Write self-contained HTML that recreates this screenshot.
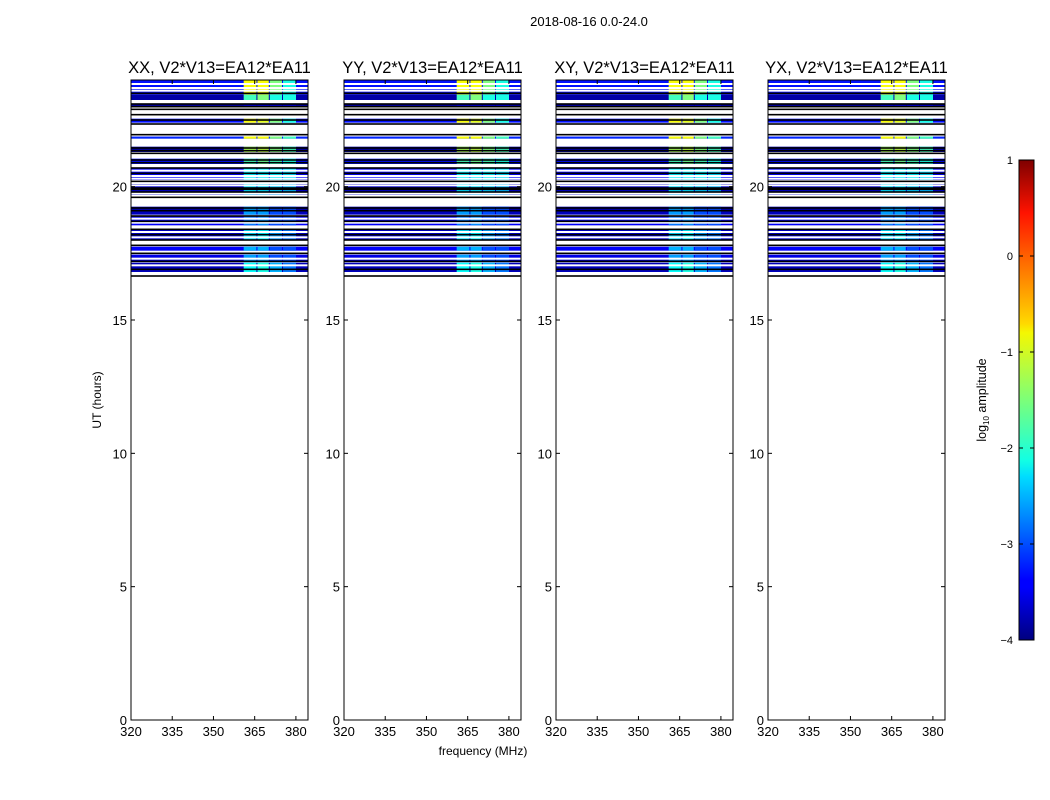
<!DOCTYPE html>
<html><head><meta charset="utf-8"><style>
body{margin:0;background:#fff;}
svg{display:block;font-family:"Liberation Sans",sans-serif;}
</style></head><body>
<svg id="s" width="1050" height="800" viewBox="0 0 1050 800">
<defs><linearGradient id="jet" x1="0" y1="1" x2="0" y2="0">
<stop offset="0" stop-color="#00007f"/><stop offset="0.11" stop-color="#0000ff"/><stop offset="0.125" stop-color="#0000ff"/>
<stop offset="0.34" stop-color="#00dcff"/><stop offset="0.375" stop-color="#13ffe3"/><stop offset="0.5" stop-color="#7cff79"/>
<stop offset="0.64" stop-color="#f4f802"/><stop offset="0.66" stop-color="#ffd800"/><stop offset="0.89" stop-color="#ff1300"/>
<stop offset="1" stop-color="#7f0000"/></linearGradient></defs>
<text x="589" y="26" font-size="13" text-anchor="middle">2018-08-16 0.0-24.0</text>
<text x="483" y="755" font-size="12" text-anchor="middle">frequency (MHz)</text>
<text transform="translate(101,400) rotate(-90)" font-size="12" text-anchor="middle">UT (hours)</text>
</svg>
<script>
const panelTitles=["XX, V2*V13=EA12*EA11","YY, V2*V13=EA12*EA11","XY, V2*V13=EA12*EA11","YX, V2*V13=EA12*EA11"];
const xTicks=[320,335,350,365,380];
const yTicks=[0,5,10,15,20];
const cbTicks=[-4,-3,-2,-1,0,1];
const bandEdges=[361,366,370.5,375.3,380.4];
const rowStart=[23.45,23.25,23.0,22.4,21.8,21.3,20.85,20.25,19.7,18.95,18.55,18.0,17.6,17.2,16.8];
const rowEnd=[24,23.45,23.12,22.55,21.88,21.5,21.05,20.7,20.1,19.25,18.9,18.4,17.75,17.45,17.15];
const rowBase=[-3.3,-3.8,-3.8,-3.3,-3.2,-3.8,-3.3,-3.4,-3.6,-3.7,-3.4,-3.6,-3.4,-3.5,-3.7];
const rowBand=[[-0.9,-0.9,-1.5,-2],[-1.8,-1.5,-2,-2],[-3.6,-3.6,-3.6,-3.6],[-0.9,-1,-1.5,-2],[-0.9,-0.9,-1.5,-1.8],[-1.3,-1.2,-1.5,-1.8],[-1.8,-1.6,-1.8,-2],[-2.2,-2.2,-2.2,-2.3],[-2.3,-2.3,-2.4,-2.5],[-2.6,-2.6,-3,-3],[-2.8,-2.7,-3,-3],[-2.3,-2.2,-2.6,-2.8],[-2.5,-2.5,-3,-3],[-2.6,-2.6,-3,-3],[-2.1,-2.0,-2.5,-2.8]];
const blackLines=[23.5,23.1,23.0,22.9,22.7,22.5,22.35,21.95,21.45,21.35,21.25,21.0,20.9,20.7,20.5,20.2,19.95,19.9,19.8,19.6,19.2,19.1,18.9,18.7,18.4,18.2,18.0,17.8,17.5,17.2,16.9,16.65];
const whiteLines=[23.85,23.7,23.6,20.6,20.4,20.3,20.05,19.75,18.8,18.65,18.3,18.1,17.3,17.05];
const panelX=[131,344,556,768];
const NS="http://www.w3.org/2000/svg";
const svg=document.getElementById('s');
function mk(t,a,p){const e=document.createElementNS(NS,t);for(const k in a)e.setAttribute(k,a[k]);(p||svg).appendChild(e);return e;}
function jet(v){let t=(v+4)/5;t=Math.max(0,Math.min(1,t));
 const r=Math.max(0,Math.min(1,1.5-Math.abs(4*t-3))),g=Math.max(0,Math.min(1,1.5-Math.abs(4*t-2))),b=Math.max(0,Math.min(1,1.5-Math.abs(4*t-1)));
 return `rgb(${Math.round(r*255)},${Math.round(g*255)},${Math.round(b*255)})`;}
const W=177,topY=80,botY=720;
const yS=h=>botY-h*(botY-topY)/24;
panelX.forEach((x0,pi)=>{
 const xS=f=>x0+(f-320)*(W/64.4);
 const g=mk('g',{});
 
 
 rowStart.forEach((s,i)=>{
  const r=mk('rect',{x:x0,y:yS(rowEnd[i]),width:W,height:yS(s)-yS(rowEnd[i]),fill:jet(rowBase[i])},g);
  
  
  rowBand[i].forEach((v,j)=>{
   const c=mk('rect',{x:xS(bandEdges[j]),y:yS(rowEnd[i]),width:xS(bandEdges[j+1])-xS(bandEdges[j])-1,height:yS(s)-yS(rowEnd[i]),fill:jet(v)},g);
   
   
  });
 });
 whiteLines.forEach(h=>{
  const l=mk('rect',{x:x0,y:yS(h)-1,width:W,height:2,fill:'#fff'},g);
  
  
 });
 blackLines.forEach(h=>{
  const l=mk('rect',{x:x0,y:yS(h)-0.8,width:W,height:1.6,fill:'#000'},g);
  
  
 });
 mk('rect',{x:x0,y:topY,width:W,height:botY-topY,fill:'none',stroke:'#000','stroke-width':1},g);
 const t=mk('text',{x:x0+W/2,y:73,'font-size':16.5,'text-anchor':'middle'},g);t.textContent=panelTitles[pi];
 
 
 xTicks.forEach(f=>{const x=xS(f);
  mk('line',{x1:x,x2:x,y1:botY,y2:botY-4,stroke:'#000'},g);mk('line',{x1:x,x2:x,y1:topY,y2:topY+4,stroke:'#000'},g);
  const tx=mk('text',{x:x,y:botY+16,'font-size':13,'text-anchor':'middle'},g);tx.textContent=f;
  
  });
 yTicks.forEach(h=>{const y=yS(h);
  mk('line',{x1:x0,x2:x0+4,y1:y,y2:y,stroke:'#000'},g);mk('line',{x1:x0+W,x2:x0+W-4,y1:y,y2:y,stroke:'#000'},g);
  const ty=mk('text',{x:x0-4,y:y+5,'font-size':13,'text-anchor':'end'},g);ty.textContent=h;
  
  });
});
const cb=mk('g',{});


mk('rect',{x:1019,y:160,width:15,height:480,fill:'url(#jet)',stroke:'#000','stroke-width':1},cb);
cbTicks.forEach(v=>{const y=640-(v+4)*96;
 mk('line',{x1:1019,x2:1023,y1:y,y2:y,stroke:'#000'},cb);mk('line',{x1:1034,x2:1030,y1:y,y2:y,stroke:'#000'},cb);
 const t=mk('text',{x:1013,y:y+4,'font-size':11,'text-anchor':'end'},cb);t.textContent=v<0?'\u2212'+(-v):v;
 
 });
const lab=mk('text',{transform:'translate(986,400) rotate(-90)','font-size':12.5,'text-anchor':'middle'},cb);
lab.innerHTML='log<tspan font-size="8" dy="3">10</tspan><tspan dy="-3"> amplitude</tspan>';


</script>
</body></html>
